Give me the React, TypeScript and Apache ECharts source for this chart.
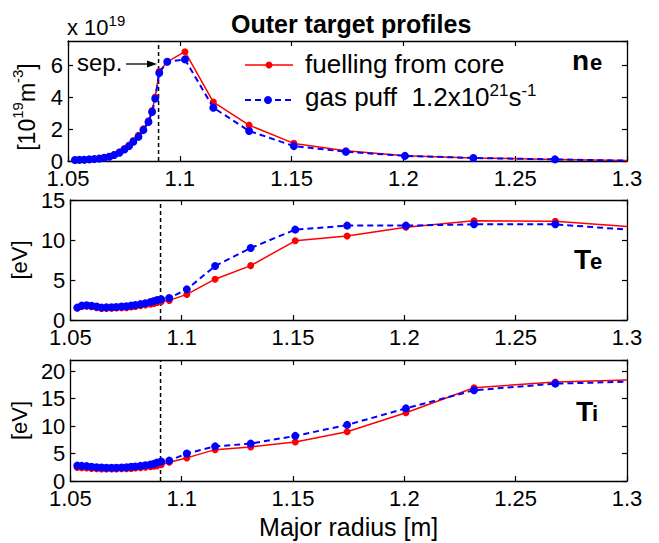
import React, { useEffect, useRef } from "react";
import * as echarts from "echarts";

const FONT = "'Liberation Sans', Arial, Helvetica, sans-serif";

// Major radius [m] of the target grid points (shared by both cases)
const RADIUS = [
  1.0531, 1.0551, 1.0573, 1.0595, 1.0618, 1.064, 1.0662, 1.0685, 1.0707, 1.073,
  1.0752, 1.0773, 1.0792, 1.0815, 1.0837, 1.086, 1.0876, 1.089, 1.0908,
  1.0944, 1.1023, 1.115, 1.131, 1.151, 1.1743, 1.2007, 1.2313, 1.2678, 1.3,
];

// n_e [1e19 m^-3]
const NE_CORE = [
  0.06, 0.07, 0.08, 0.1, 0.13, 0.17, 0.22, 0.3, 0.41, 0.57,
  0.78, 1.0, 1.28, 1.6, 2.02, 2.52, 3.15, 4.0, 5.6,
  6.2, 6.83, 3.68, 2.24, 1.1, 0.64, 0.33, 0.19, 0.1, 0.03,
];
const NE_PUFF = [
  0.06, 0.07, 0.08, 0.1, 0.12, 0.15, 0.2, 0.27, 0.37, 0.52,
  0.72, 0.93, 1.2, 1.51, 1.93, 2.44, 3.06, 3.9, 5.5,
  6.2, 6.35, 3.33, 1.88, 0.93, 0.58, 0.32, 0.19, 0.1, 0.02,
];

// T_e [eV]
const TE_CORE = [
  1.5, 1.7, 1.72, 1.65, 1.55, 1.45, 1.45, 1.48, 1.5, 1.52,
  1.55, 1.62, 1.7, 1.78, 1.88, 1.98, 2.08, 2.18, 2.28,
  2.45, 3.2, 5.1, 6.8, 9.9, 10.5, 11.6, 12.4, 12.35, 11.7,
];
const TE_PUFF = [
  1.55, 1.8, 1.85, 1.78, 1.68, 1.55, 1.58, 1.6, 1.62, 1.68,
  1.72, 1.8, 1.88, 1.98, 2.1, 2.25, 2.38, 2.5, 2.6,
  2.75, 3.83, 6.75, 9.0, 11.3, 11.8, 11.8, 11.96, 11.96, 11.3,
];

// T_i [eV]
const TI_CORE = [
  2.45, 2.4, 2.35, 2.3, 2.25, 2.2, 2.2, 2.2, 2.2, 2.22,
  2.25, 2.3, 2.35, 2.42, 2.5, 2.6, 2.7, 2.8, 2.95,
  3.4, 4.2, 5.7, 6.2, 7.1, 8.95, 12.4, 16.95, 18.0, 18.35,
];
const TI_PUFF = [
  2.8, 2.75, 2.7, 2.6, 2.5, 2.45, 2.4, 2.4, 2.42, 2.45,
  2.5, 2.58, 2.65, 2.75, 2.85, 3.0, 3.15, 3.35, 3.55,
  3.7, 5.0, 6.3, 6.8, 8.2, 10.2, 13.2, 16.5, 17.7, 18.05,
];

const SEPARATRIX = 1.0905;
const X_MIN = 1.05;
const X_MAX = 1.3;
const X_STEP = 0.05;
const X_NAME = "Major radius [m]";
const Y_MAX = [7.5, 15, 22];
const Y_STEP = [2, 5, 5];
// n_e unit "[10^19 m^-3]" as (text, superscript?) pieces
const NE_UNIT_PARTS: [string, boolean][] = [
  ["[10", false],
  ["19", true],
  ["m", false],
  ["-3", true],
  ["]", false],
];
const Y_NAMES = ["", "[eV]", "[eV]"];
const CORE_NAME = "fuelling from core";
const PUFF_NAME = "gas puff  1.2x10^21 s^-1";

const PANELS = [
  { core: NE_CORE, puff: NE_PUFF },
  { core: TE_CORE, puff: TE_PUFF },
  { core: TI_CORE, puff: TI_PUFF },
];

const GRID_LEFT = 68;
const GRID_WIDTH = 559;
const GRID_POS = [
  { top: 41, height: 120 },
  { top: 200, height: 120 },
  { top: 360, height: 121 },
];

const RED = "#ff0000";
const BLUE = "#0000ff";

function toData(ys: number[]) {
  return RADIUS.map((r, i) =>
    i === RADIUS.length - 1 ? { value: [r, ys[i]], symbol: "none" } : [r, ys[i]]
  );
}

function buildOption() {
  const grid: any[] = [];
  const xAxis: any[] = [];
  const yAxis: any[] = [];
  const series: any[] = [];

  const axisLine = { show: true, onZero: false, lineStyle: { color: "#000", width: 1.3 } };
  const axisTick = { show: true, inside: true, length: 5, lineStyle: { color: "#000", width: 1.2 } };

  PANELS.forEach((p, i) => {
    grid.push({ left: GRID_LEFT, width: GRID_WIDTH, top: GRID_POS[i].top, height: GRID_POS[i].height });
    const xBase = {
      type: "value",
      gridIndex: i,
      min: X_MIN,
      max: X_MAX,
      interval: X_STEP,
      axisLine,
      axisTick,
      splitLine: { show: false },
    };
    const isLast = i === PANELS.length - 1;
    xAxis.push({
      ...xBase,
      position: "bottom",
      name: isLast ? X_NAME : "",
      nameLocation: "middle",
      nameGap: 33,
      nameTextStyle: { fontSize: 25, color: "#000", fontFamily: FONT },
      axisLabel: { show: true, margin: 9, fontSize: 22, lineHeight: 16, color: "#000", fontFamily: FONT },
    });
    xAxis.push({ ...xBase, position: "top", axisLabel: { show: false } });

    const yBase = {
      type: "value",
      gridIndex: i,
      min: 0,
      max: Y_MAX[i],
      interval: Y_STEP[i],
      axisLine,
      axisTick,
      splitLine: { show: false },
    };
    yAxis.push({
      ...yBase,
      position: "left",
      name: Y_NAMES[i],
      nameLocation: "middle",
      nameRotate: 90,
      nameGap: i === 2 ? 35 : 32,
      nameTextStyle: { fontSize: 22, color: "#000", fontFamily: FONT },
      axisLabel: {
        show: true,
        margin: 5,
        fontSize: 22,
        lineHeight: 16,
        color: "#000",
        fontFamily: FONT,
        showMaxLabel: Y_MAX[i] % Y_STEP[i] === 0,
      },
    });
    yAxis.push({ ...yBase, position: "right", axisLabel: { show: false } });

    series.push({
      type: "line",
      name: "separatrix",
      xAxisIndex: 2 * i,
      yAxisIndex: 2 * i,
      data: [
        [SEPARATRIX, 0],
        [SEPARATRIX, Y_MAX[i]],
      ],
      symbol: "none",
      silent: true,
      lineStyle: { color: "#000", type: [4, 3], width: 1.5 },
      z: 1,
    });
    series.push({
      type: "line",
      name: CORE_NAME,
      xAxisIndex: 2 * i,
      yAxisIndex: 2 * i,
      data: toData(p.core),
      symbol: "circle",
      symbolSize: 7,
      itemStyle: { color: RED },
      lineStyle: { color: RED, width: 1.5 },
      z: 2,
    });
    series.push({
      type: "line",
      name: PUFF_NAME,
      xAxisIndex: 2 * i,
      yAxisIndex: 2 * i,
      data: toData(p.puff),
      symbol: "circle",
      symbolSize: 8,
      itemStyle: { color: BLUE },
      lineStyle: { color: BLUE, width: 2, type: [6, 4] },
      z: 3,
    });
  });

  const subLabel = (main: string, sub: string, x: number, baseline: number, subX: number) => [
    {
      type: "text",
      x,
      y: baseline - 0.3465 * 28,
      z: 10,
      style: { text: main, fontSize: 28, fontWeight: "bold", fontFamily: FONT, fill: "#000", align: "left", verticalAlign: "middle" },
    },
    {
      type: "text",
      x: subX,
      y: baseline - 0.3465 * 22,
      z: 10,
      style: { text: sub, fontSize: 22, fontWeight: "bold", fontFamily: FONT, fill: "#000", align: "left", verticalAlign: "middle" },
    },
  ];

  // rotated n_e unit built from pieces (reads bottom to top)
  const CHAR_W: Record<string, number> = { "[": 0.278, "]": 0.278, "1": 0.556, "0": 0.556, "9": 0.556, "3": 0.556, m: 0.833, "-": 0.333 };
  const MAIN_F = 23;
  const SUP_F = 15;
  const widthOf = (s: string, f: number) => s.split("").reduce((a, c) => a + (CHAR_W[c] || 0.556) * f, 0);
  const totalLen = NE_UNIT_PARTS.reduce((a, [s, sup]) => a + widthOf(s, sup ? SUP_F : MAIN_F), 0);
  let cursor = 107 + totalLen / 2;
  const unitPieces: any[] = NE_UNIT_PARTS.map(([s, sup]) => {
    const f = sup ? SUP_F : MAIN_F;
    const el = {
      type: "text",
      x: sup ? 17 : 27,
      y: cursor,
      rotation: Math.PI / 2,
      style: { text: s, fontSize: f, fontFamily: FONT, fill: "#000", align: "left", verticalAlign: "middle" },
    };
    cursor -= widthOf(s, f);
    return el;
  });

  const legendText = { fontSize: 26, fontFamily: FONT, fill: "#000", align: "left", verticalAlign: "middle" };

  const graphic: any[] = [
    ...unitPieces,
    // "x 10^19" multiplier
    {
      type: "text",
      x: 67,
      y: 27,
      style: {
        text: "x 10{sup|19}",
        fontSize: 22,
        fontFamily: FONT,
        fill: "#000",
        lineHeight: 28,
        align: "left",
        verticalAlign: "middle",
        rich: { sup: { fontSize: 15, lineHeight: 15, verticalAlign: "top", fontFamily: FONT, fill: "#000" } },
      },
    },
    // sep. annotation
    {
      type: "text",
      x: 77,
      y: 62,
      z: 10,
      style: { text: "sep.", fontSize: 24, fontFamily: FONT, fill: "#000", align: "left", verticalAlign: "middle" },
    },
    { type: "line", z: 10, shape: { x1: 126, y1: 64, x2: 150, y2: 64 }, style: { stroke: "#000", lineWidth: 1.3 } },
    { type: "polygon", z: 10, shape: { points: [[157, 64], [147, 60.5], [147, 67.5]] }, style: { fill: "#000" } },
    // legend
    { type: "line", z: 10, shape: { x1: 245, y1: 65, x2: 293, y2: 65 }, style: { stroke: RED, lineWidth: 1.5 } },
    { type: "circle", z: 10, shape: { cx: 269, cy: 65, r: 3.5 }, style: { fill: RED } },
    { type: "text", z: 10, x: 305, y: 64, style: { ...legendText, text: CORE_NAME } },
    { type: "line", z: 10, shape: { x1: 245, y1: 100, x2: 293, y2: 100 }, style: { stroke: BLUE, lineWidth: 2, lineDash: [6, 4] } },
    { type: "circle", z: 10, shape: { cx: 268, cy: 100, r: 4 }, style: { fill: BLUE } },
    {
      type: "text",
      z: 10,
      x: 305,
      y: 97,
      style: {
        ...legendText,
        text: "gas puff  1.2x10{sup|21}s{sup|-1}",
        lineHeight: 30,
        rich: { sup: { fontSize: 17, lineHeight: 17, verticalAlign: "top", fontFamily: FONT, fill: "#000" } },
      },
    },
    ...subLabel("n", "e", 572, 70, 590),
    ...subLabel("T", "e", 574, 269, 590),
    ...subLabel("T", "i", 576, 421, 592),
  ];

  return {
    animation: false,
    backgroundColor: "#fff",
    title: {
      text: "Outer target profiles",
      left: 226,
      top: 6,
      textStyle: { fontSize: 25, fontWeight: "bold", fontFamily: FONT, color: "#000" },
    },
    grid,
    xAxis,
    yAxis,
    series,
    graphic,
  };
}

export default function App() {
  const ref = useRef<HTMLDivElement>(null);
  useEffect(() => {
    if (!ref.current) return;
    const chart = echarts.init(ref.current, undefined, { renderer: "svg" });
    chart.setOption(buildOption() as any);
    return () => chart.dispose();
  }, []);
  return (
    <div
      ref={ref}
      style={{ position: "fixed", left: 0, top: 0, width: 659, height: 543, background: "#fff" }}
    />
  );
}
